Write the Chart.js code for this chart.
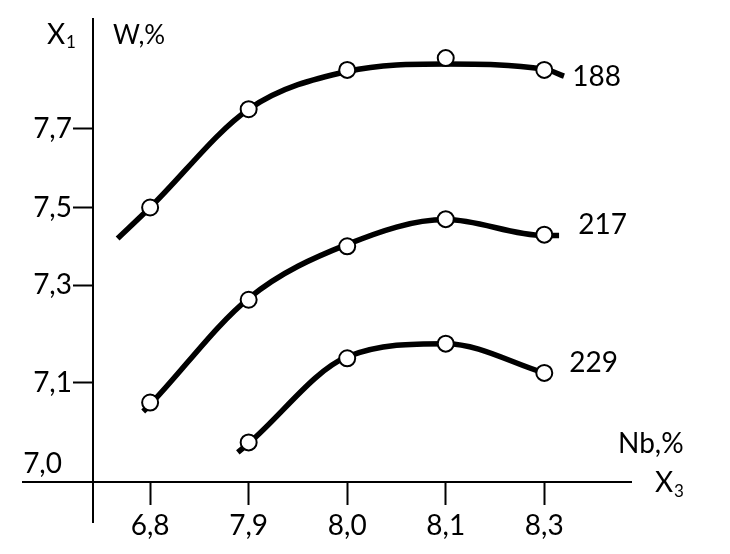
<!DOCTYPE html>
<html>
<head>
<meta charset="utf-8">
<script src="https://cdn.jsdelivr.net/npm/chart.js@4.4.1/dist/chart.umd.min.js"></script>
<style>
  html, body { margin: 0; padding: 0; background: #fff; }
  #wrap { width: 730px; height: 554px; }
</style>
</head>
<body>
<div id="wrap"><canvas id="chart"></canvas></div>
<script>
// x categories (Nb, %), drawn at equal steps
var xLabels = ['6,8', '7,9', '8,0', '8,1', '8,3'];
// y ticks (W, %); the axis of the original is not uniform
var yTicks = [7.1, 7.3, 7.5, 7.7];
var yBreaks = [7.0, 7.1, 7.3, 7.5, 7.7];
var yBreakSpans = [1.0, 0.98, 0.78, 0.79];

var seriesNames = ['188', '217', '229'];

// measured points (circles), one per category
var points188 = [7.50, 7.75, 7.85, 7.88, 7.85];
var points217 = [7.08, 7.27, 7.40, 7.47, 7.43];
var points229 = [null, 7.04, 7.15, 7.18, 7.12];

// fitted curves as drawn (x = category position)
var curve188X = [-0.33, 0, 1, 2, 3, 4, 4.2];
var curve188Y = [7.42, 7.50, 7.75, 7.846, 7.865, 7.852, 7.834];
var curve217X = [-0.07, 0, 1, 2, 3, 4, 4.15];
var curve217Y = [7.071, 7.078, 7.273, 7.405, 7.469, 7.428, 7.428];
var curve229X = [0.89, 1, 2, 3, 4];
var curve229Y = [7.030, 7.039, 7.153, 7.180, 7.120];

// y scale with unequal spacing between tick values
class BrokenLinearScale extends Chart.LinearScale {
  toUnits(v) {
    var k = this.options.breaks, s = this.options.spans;
    if (v <= k[0]) return (v - k[0]) / (k[1] - k[0]) * s[0];
    var u = 0;
    for (var i = 0; i < s.length; i++) {
      if (v <= k[i + 1] || i === s.length - 1) {
        return u + (v - k[i]) / (k[i + 1] - k[i]) * s[i];
      }
      u += s[i];
    }
  }
  fromUnits(u) {
    var k = this.options.breaks, s = this.options.spans;
    if (u <= 0) return k[0] + u / s[0] * (k[1] - k[0]);
    var acc = 0;
    for (var i = 0; i < s.length; i++) {
      if (u <= acc + s[i] || i === s.length - 1) {
        return k[i] + (u - acc) / s[i] * (k[i + 1] - k[i]);
      }
      acc += s[i];
    }
  }
  getPixelForValue(value) {
    if (value === null || value === undefined) return NaN;
    var u0 = this.toUnits(this.min), u1 = this.toUnits(this.max);
    return this.getPixelForDecimal((this.toUnits(value) - u0) / (u1 - u0));
  }
  getValueForPixel(pixel) {
    var u0 = this.toUnits(this.min), u1 = this.toUnits(this.max);
    return this.fromUnits(u0 + this.getDecimalForPixel(pixel) * (u1 - u0));
  }
  // an axis placed at a value keeps its labels on the line; move them past the ticks
  _computeLabelItems(chartArea) {
    var items = super._computeLabelItems(chartArea);
    var shift = this.options.grid.tickLength + this.options.ticks.padding;
    items.forEach(function (it) {
      var t = it.options.translation;
      it.options.translation = [t[0] - shift, t[1]];
    });
    return items;
  }
}
BrokenLinearScale.id = 'brokenLinear';
BrokenLinearScale.defaults = {};
Chart.register(BrokenLinearScale);

function pairs(xs, ys) {
  return xs.map(function (x, i) { return { x: x, y: ys[i] }; });
}
function marks(ys) {
  return ys.map(function (y, i) { return { x: i, y: y }; }).filter(function (p) { return p.y !== null; });
}

var FONT = 'Lato, "Open Sans", sans-serif';
var labelOffsets = [[28, 7], [34, -10], [25, -10]];

var axisLabels = {
  id: 'axisLabels',
  afterDraw: function (chart) {
    var ctx = chart.ctx, xs = chart.scales.x, ys = chart.scales.y;
    var ax = xs.getPixelForValue(-0.58), ay = ys.getPixelForValue(7.0);
    var top = chart.chartArea.top, right = chart.chartArea.right;
    ctx.save();
    ctx.fillStyle = '#000';
    ctx.textBaseline = 'middle';
    ctx.textAlign = 'left';
    // top of y axis: X1 and W,%
    ctx.font = '28px ' + FONT;
    ctx.fillText('X', ax - 46, top + 16);
    ctx.font = '17px ' + FONT;
    ctx.fillText('1', ax - 27, top + 24);
    ctx.font = '26px ' + FONT;
    ctx.fillText('W,%', ax + 20, top + 17);
    // origin value
    ctx.font = '28px ' + FONT;
    ctx.textAlign = 'right';
    ctx.fillText('7,0', ax - 31, ay - 18);
    // end of x axis: Nb,% and X3
    ctx.textAlign = 'left';
    ctx.fillText('Nb,%', right - 13, ay - 38);
    ctx.fillText('X', right + 24, ay + 1);
    ctx.font = '17px ' + FONT;
    ctx.fillText('3', right + 43, ay + 9);
    // series names next to the last circle
    ctx.font = '28px ' + FONT;
    [points188, points217, points229].forEach(function (p, i) {
      var px = xs.getPixelForValue(4), py = ys.getPixelForValue(p[4]);
      ctx.fillText(seriesNames[i], px + labelOffsets[i][0], py + labelOffsets[i][1]);
    });
    ctx.restore();
  }
};

function curveSet(data) {
  return {
    type: 'line', data: data, order: 2,
    borderColor: '#000', borderWidth: 5.5, pointRadius: 0,
    cubicInterpolationMode: 'monotone', fill: false
  };
}
function markSet(data) {
  return {
    type: 'line', data: data, order: 1, showLine: false,
    pointRadius: 8, pointBorderWidth: 2,
    pointBackgroundColor: '#fff', pointBorderColor: '#000'
  };
}

var config = {
  type: 'line',
  data: {
    datasets: [
      markSet(marks(points188)),
      markSet(marks(points217)),
      markSet(marks(points229)),
      curveSet(pairs(curve188X, curve188Y)),
      curveSet(pairs(curve217X, curve217Y)),
      curveSet(pairs(curve229X, curve229Y))
    ]
  },
  options: {
    responsive: true,
    maintainAspectRatio: false,
    animation: false,
    events: [],
    layout: { padding: { left: 23, top: 17, right: 99, bottom: 32 } },
    plugins: { legend: { display: false }, tooltip: { enabled: false } },
    scales: {
      x: {
        type: 'linear',
        min: -1.29, max: 4.88,
        position: { y: 7.0 },
        afterBuildTicks: function (scale) {
          scale.ticks = xLabels.map(function (l, i) { return { value: i }; });
        },
        ticks: {
          callback: function (v) { return xLabels[v]; },
          font: { family: FONT, size: 28 }, color: '#000', padding: 5,
          maxRotation: 0, autoSkip: false
        },
        grid: { drawOnChartArea: false, drawTicks: true, tickLength: 22, tickWidth: 2, tickColor: '#000' },
        border: { display: true, color: '#000', width: 2 }
      },
      y: {
        type: 'brokenLinear',
        min: 6.96, max: 7.98,
        breaks: yBreaks, spans: yBreakSpans,
        position: { x: -0.58 },
        afterBuildTicks: function (scale) {
          scale.ticks = yTicks.map(function (v) { return { value: v }; });
        },
        ticks: {
          callback: function (v) { return v.toFixed(1).replace('.', ','); },
          font: { family: FONT, size: 28 }, color: '#000', padding: 2,
          autoSkip: false
        },
        grid: { drawOnChartArea: false, drawTicks: true, tickLength: 19, tickWidth: 2, tickColor: '#000' },
        border: { display: true, color: '#000', width: 2 }
      }
    }
  },
  plugins: [axisLabels]
};

window.onload = function () {
  var ctx = document.getElementById('chart').getContext('2d');
  window.myChart = new Chart(ctx, config);
};
</script>
</body>
</html>
